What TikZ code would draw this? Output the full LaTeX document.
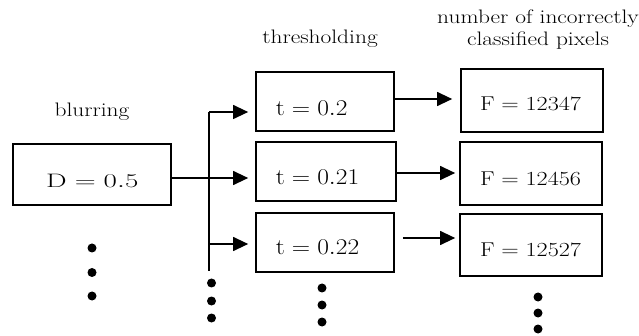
\RequirePackage{fix-cm}
\documentclass[tikz,border=0pt]{standalone}
\usetikzlibrary{arrows.meta,calc}
\newcommand{\wx}[1]{\scalebox{1.2}[1]{#1}}
\begin{document}
\begin{tikzpicture}[x=1pt,y=-1pt,
  box/.style={draw,line width=1.7pt,inner sep=0pt,rectangle},
  lbl/.style={inner sep=0pt,font=\fontsize{19.5}{22}\selectfont},
  val/.style={inner sep=0pt,anchor=base west},
  arr/.style={line width=1.2pt,-{Triangle[length=15pt,width=14pt]}},
  conn/.style={line width=1.2pt},
  dot/.style={circle,fill,inner sep=0pt,minimum size=9pt}]
\useasboundingbox (0,0) rectangle (639,336);
% boxes
\node[box,minimum width=158pt,minimum height=61pt] (blur) at (92,174.5) {};
\node[box,minimum width=138pt,minimum height=59pt] (t1) at (325,101.5) {};
\node[box,minimum width=140pt,minimum height=59pt] (t2) at (326,171.5) {};
\node[box,minimum width=138pt,minimum height=59pt] (t3) at (325,242.5) {};
\node[box,minimum width=142pt,minimum height=63pt] (f1) at (532,100.5) {};
\node[box,minimum width=142pt,minimum height=63pt] (f2) at (531,173.5) {};
\node[box,minimum width=142pt,minimum height=62pt] (f3) at (531,245) {};
% values
\node[val] (dtext) at (46,187.3) {\fontsize{19.5}{22}\selectfont\scalebox{1.49}[1]{$\mathrm{D}=0.5$}};
\node[val] (t1text) at (275.7,115.3) {\fontsize{22.5}{24}\selectfont\scalebox{1.13}[1]{$\mathrm{t}=0.2$}};
\node[val] (t2text) at (275.7,185) {\fontsize{22.5}{24}\selectfont\scalebox{1.13}[1]{$\mathrm{t}=0.21$}};
\node[val] (t3text) at (275.7,255) {\fontsize{22.5}{24}\selectfont\scalebox{1.13}[1]{$\mathrm{t}=0.22$}};
\node[val] (f1text) at (480,110.5) {\fontsize{20}{22}\selectfont\scalebox{1.21}[1]{$\mathrm{F}=12347$}};
\node[val] (f2text) at (480,185.5) {\fontsize{20}{22}\selectfont\scalebox{1.21}[1]{$\mathrm{F}=12456$}};
\node[val] (f3text) at (480,257) {\fontsize{20}{22}\selectfont\scalebox{1.21}[1]{$\mathrm{F}=12527$}};
% labels
\node[lbl,anchor=base] (lblur) at (92,117) {\wx{blurring}};
\node[lbl,anchor=base] (lthr) at (320,43.5) {\wx{thresholding}};
\node[lbl,anchor=base,align=center] (lf) at (538,46) {\wx{number of incorrectly}\\\wx{classified pixels}};
% connectors
\coordinate (vtop) at (209,112);
\coordinate (vbot) at (209,271);
\coordinate (vmid) at (209,178);
\coordinate (vlow) at (209,244);
\draw[conn] (vtop) -- (vbot);
\draw[arr,shorten >=7pt] (vtop) -- (t1.west |- vtop);
\draw[arr,shorten >=7pt] (blur.east |- vmid) -- (t2.west |- vmid);
\draw[arr,shorten >=7pt] (vlow) -- (t3.west |- vlow);
\coordinate (r1) at (0,99);
\coordinate (r2) at (0,173);
\coordinate (r3) at (0,238);
\draw[arr,shorten >=8pt] (t1.east |- r1) -- (f1.west |- r1);
\draw[arr,shorten >=4pt] (t2.east |- r2) -- (f2.west |- r2);
\draw[arr,shorten <=8pt,shorten >=4pt] (t3.east |- r3) -- (f3.west |- r3);
% dots
\node[dot] (b1) at (92,248) {};
\node[dot] (b2) at (92,272.5) {};
\node[dot] (b3) at (92,296) {};
\node[dot] (v1) at (211.5,283) {};
\node[dot] (v2) at (211.5,301) {};
\node[dot] (v3) at (211.5,318) {};
\node[dot] (m1) at (322,288) {};
\node[dot] (m2) at (322,305) {};
\node[dot] (m3) at (322,322) {};
\node[dot] (n1) at (538,297) {};
\node[dot] (n2) at (538,313) {};
\node[dot] (n3) at (538,329) {};
\end{tikzpicture}
\end{document}
